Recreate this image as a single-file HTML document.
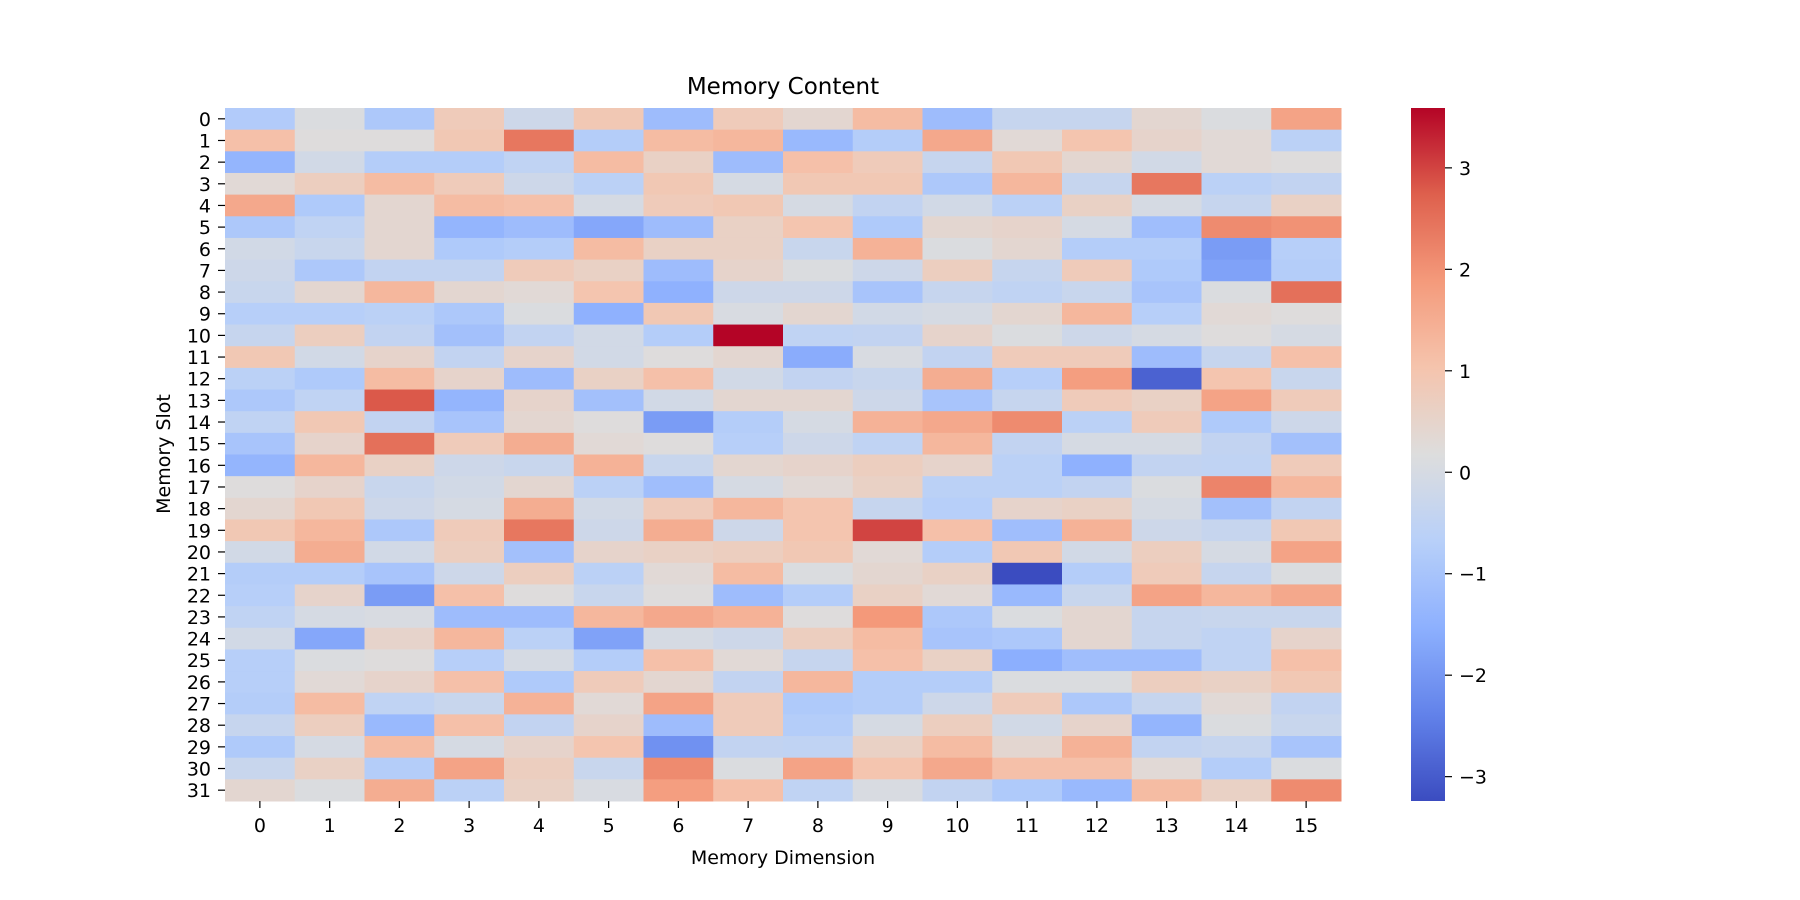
<!DOCTYPE html>
<html><head><meta charset="utf-8"><style>
html,body{margin:0;padding:0;background:#fff;}
svg{display:block;font-family:"DejaVu Sans","Liberation Sans",sans-serif;}
</style></head><body>
<svg id="chart" width="1800" height="900" viewBox="0 0 1800 900">
<g id="cells"></g>
<g id="yticks"></g>
<g id="xticks"></g>
<g id="cbar"></g>
<text x="783" y="94" text-anchor="middle" font-size="23">Memory Content</text>
<text x="783" y="864" text-anchor="middle" font-size="19">Memory Dimension</text>
<text x="0" y="0" transform="translate(170,454) rotate(-90)" text-anchor="middle" font-size="19">Memory Slot</text>
</svg>
<script>
const rowLabels = Array.from({length:32},(_,i)=>String(i));
const colLabels = Array.from({length:16},(_,i)=>String(i));
const cbarTicks = [-3,-2,-1,0,1,2,3];
const vmin = -3.24, vmax = 3.59;
const values = [
[-0.8,0.1,-0.9,0.8,-0.2,0.9,-1.2,0.8,0.4,1.2,-1.2,-0.35,-0.35,0.4,0.1,1.7],
[1.1,0.2,0.2,0.9,2.4,-0.75,1.2,1.3,-1.3,-0.75,1.6,0.3,1.0,0.5,0.3,-0.6],
[-1.4,-0.1,-0.75,-0.75,-0.5,1.2,0.6,-1.2,1.1,0.8,-0.35,0.9,0.4,-0.1,0.3,0.2],
[0.3,0.7,1.2,0.8,-0.2,-0.6,0.9,0.0,0.9,0.9,-0.9,1.3,-0.35,2.4,-0.6,-0.45],
[1.6,-0.85,0.4,1.2,1.1,0.0,0.8,0.9,0.0,-0.45,-0.1,-0.6,0.6,0.0,-0.35,0.6],
[-0.9,-0.5,0.4,-1.4,-1.2,-1.7,-1.2,0.6,1.0,-0.85,0.4,0.5,0.0,-1.15,2.1,2.0],
[-0.1,-0.3,0.4,-0.85,-0.75,1.2,0.6,0.6,-0.3,1.4,0.1,0.4,-0.75,-0.75,-1.9,-0.7],
[-0.2,-0.9,-0.45,-0.45,0.8,0.6,-1.2,0.5,0.1,-0.2,0.7,-0.35,0.8,-0.85,-1.8,-0.75],
[-0.3,0.4,1.3,0.4,0.3,1.0,-1.5,-0.2,-0.2,-1.0,-0.35,-0.5,-0.3,-1.0,0.1,2.5],
[-0.7,-0.7,-0.6,-0.9,0.1,-1.5,0.9,0.05,0.4,-0.1,0.0,0.4,1.3,-0.7,0.3,0.2],
[-0.35,0.7,-0.45,-1.1,-0.45,-0.1,-0.75,3.59,-0.5,-0.45,0.5,0.1,-0.2,0.0,0.2,0.0],
[0.9,-0.1,0.5,-0.45,0.5,-0.1,0.2,0.4,-1.6,0.05,-0.45,0.8,0.8,-1.2,-0.35,1.1],
[-0.6,-0.85,1.2,0.5,-1.2,0.6,1.1,-0.1,-0.45,-0.3,1.5,-0.7,1.8,-2.9,1.0,-0.3],
[-0.9,-0.5,2.8,-1.4,0.5,-1.1,-0.1,0.4,0.4,-0.2,-1.0,-0.35,0.8,0.6,1.7,0.8],
[-0.5,0.9,-0.45,-1.0,0.4,0.2,-1.9,-0.75,0.0,1.4,1.6,2.1,-0.6,0.8,-0.85,-0.2],
[-1.0,0.5,2.5,0.8,1.5,0.3,0.2,-0.7,-0.2,-0.5,1.3,-0.45,0.0,0.0,-0.45,-1.1],
[-1.4,1.3,0.6,-0.2,-0.3,1.4,-0.3,0.4,0.5,0.7,0.5,-0.6,-1.5,-0.45,-0.5,0.8],
[0.2,0.5,-0.3,-0.1,0.4,-0.6,-1.15,0.0,0.3,0.6,-0.6,-0.6,-0.45,0.1,2.2,1.3],
[0.4,0.9,-0.2,0.0,1.5,-0.1,0.8,1.3,1.0,-0.35,-0.7,0.5,0.6,0.0,-1.1,-0.45],
[0.9,1.3,-0.9,0.8,2.4,-0.2,1.5,-0.2,1.0,3.0,1.1,-1.15,1.4,-0.2,-0.35,0.9],
[-0.1,1.5,-0.1,0.7,-1.1,0.5,0.6,0.7,0.9,0.3,-0.75,0.9,-0.1,0.7,0.0,1.7],
[-0.75,-0.75,-1.0,-0.2,0.7,-0.6,0.3,1.2,0.1,0.4,0.6,-3.24,-0.75,0.8,-0.35,0.1],
[-0.7,0.5,-1.9,1.1,0.2,-0.3,0.2,-1.2,-0.75,0.6,0.3,-1.3,-0.3,1.7,1.3,1.6],
[-0.5,0.0,0.05,-1.2,-1.2,1.3,1.6,1.4,0.2,1.9,-0.9,0.1,0.4,-0.35,-0.3,-0.3],
[-0.1,-1.7,0.5,1.3,-0.6,-1.8,0.0,-0.2,0.7,1.2,-1.0,-0.9,0.4,-0.35,-0.5,0.5],
[-0.7,0.1,0.2,-0.7,0.0,-0.75,1.1,0.3,-0.35,1.1,0.6,-1.55,-1.15,-1.15,-0.5,1.1],
[-0.7,0.3,0.5,1.1,-0.85,0.8,0.4,-0.45,1.3,-0.75,-0.75,0.1,0.1,0.7,0.6,0.9],
[-0.75,1.2,-0.5,-0.3,1.4,0.3,1.7,0.8,-0.85,-0.75,-0.2,0.8,-0.9,-0.35,0.3,-0.45],
[-0.35,0.7,-1.3,1.1,-0.45,0.5,-1.2,0.8,-0.75,0.0,0.7,-0.1,0.5,-1.4,0.1,-0.3],
[-0.85,0.0,1.2,0.0,0.5,1.0,-2.1,-0.45,-0.5,0.6,1.2,0.4,1.4,-0.45,-0.35,-1.0],
[-0.3,0.6,-0.75,1.7,0.7,-0.3,2.1,0.1,1.7,1.0,1.6,1.1,1.1,0.3,-0.75,0.1],
[0.4,0.1,1.5,-0.6,0.6,0.05,1.8,1.1,-0.5,0.05,-0.45,-0.85,-1.3,1.2,0.6,2.1]
];
const NS='http://www.w3.org/2000/svg';
const L=225,T=108,R=1341,B=801;
const CW=(R-L)/colLabels.length, RH=(B-T)/rowLabels.length;
const CBL=1411,CBR=1445;
const stops=[[59,76,192],[98,130,234],[141,176,254],[184,208,249],[221,221,221],[245,196,173],[244,154,123],[222,96,77],[180,4,38]];
function cmap(t){t=Math.max(0,Math.min(1,t));const p=t*8,i=Math.min(7,Math.floor(p)),f=p-i;const a=stops[i],b=stops[i+1];
return 'rgb('+a.map((v,k)=>Math.round(v+(b[k]-v)*f)).join(',')+')';}
const norm=v=>(v-vmin)/(vmax-vmin);
const xPos=c=>L+c*CW, yPos=r=>T+r*RH;
const cbY=v=>B-(v-vmin)/(vmax-vmin)*(B-T);
function mk(tag,attrs,parent){const e=document.createElementNS(NS,tag);for(const k in attrs)e.setAttribute(k,attrs[k]);parent.appendChild(e);return e;}
const cells=document.getElementById('cells');
values.forEach((row,r)=>row.forEach((v,c)=>{
 const e=mk('rect',{x:xPos(c),y:yPos(r),width:CW+0.5,height:RH+0.5,fill:cmap(norm(v))},cells);
 
 
}));
const yt=document.getElementById('yticks');
rowLabels.forEach((lab,r)=>{
 const y=yPos(r)+RH/2;
 mk('line',{x1:L-7,x2:L,y1:y,y2:y,stroke:'#000','stroke-width':1.2},yt);
 const t=mk('text',{x:L-14,y:y+7,'text-anchor':'end','font-size':19},yt);t.textContent=lab;
 
 
});
const xt=document.getElementById('xticks');
colLabels.forEach((lab,c)=>{
 const x=xPos(c)+CW/2;
 mk('line',{x1:x,x2:x,y1:B,y2:B+7,stroke:'#000','stroke-width':1.2},xt);
 const t=mk('text',{x:x,y:B+31,'text-anchor':'middle','font-size':19},xt);t.textContent=lab;
 
 
});
const cb=document.getElementById('cbar');
const defs=mk('defs',{},cb);
const g=mk('linearGradient',{id:'cg',x1:0,y1:1,x2:0,y2:0},defs);
for(let i=0;i<=32;i++){mk('stop',{offset:i/32,'stop-color':cmap(i/32)},g);}
const bar=mk('rect',{x:CBL,y:T,width:CBR-CBL,height:B-T,fill:'url(#cg)'},cb);


cbarTicks.forEach(v=>{
 const y=cbY(v);
 mk('line',{x1:CBR,x2:CBR+7,y1:y,y2:y,stroke:'#000','stroke-width':1.2},cb);
 const t=mk('text',{x:CBR+14,y:y+7,'font-size':19},cb);t.textContent=(v<0?'\u2212'+(-v):String(v));
 
 
});
</script>
</body></html>
